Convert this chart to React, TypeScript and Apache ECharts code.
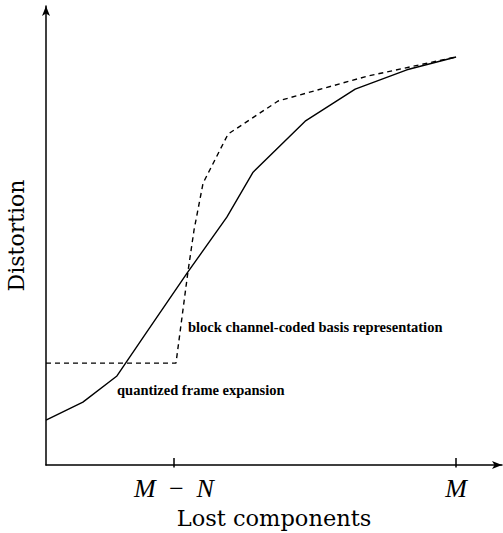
import React, { useEffect, useRef } from "react";
import * as echarts from "echarts";

// Data in arbitrary units: x = lost components (M = 100), y = distortion
const solidX = [0, 9.0, 17.3, 24.6, 34.4, 44.1, 50.5, 63.2, 75.4, 88.0, 100];
const solidY = [9.8, 13.7, 19.4, 29.0, 41.8, 54.0, 63.8, 74.9, 81.9, 86.1, 88.9];

const dashedX = [0, 31.7, 33.4, 34.6, 36.1, 38.3, 44.4, 56.6, 78.3, 100];
const dashedY = [22.2, 22.2, 33.8, 42.0, 51.2, 61.4, 72.1, 79.3, 84.7, 88.9];

const tickValues = [31.2, 100];
const tickLabels = ["M \u2009\u2212\u2009 N", "M"];

const xAxisName = "Lost components";
const yAxisName = "Distortion";
const labelBlock = "block channel-coded basis representation";
const labelQuant = "quantized frame expansion";

export default function App() {
  const ref = useRef<HTMLDivElement>(null);
  useEffect(() => {
    if (!ref.current) return;
    const chart = echarts.init(ref.current, undefined, { renderer: "svg" });
    const solid = solidX.map((x, i) => [x, solidY[i]]);
    const dashed = dashedX.map((x, i) => [x, dashedY[i]]);
    chart.setOption({
      animation: false,
      backgroundColor: "#fff",
      grid: {
        left: 46,
        top: 6,
        width: 456,
        height: 459,
        containLabel: false,
        outerBoundsMode: "none",
      },
      xAxis: [
        {
          type: "value",
          min: 0,
          max: 111.2,
          name: xAxisName,
          nameLocation: "middle",
          nameGap: 41,
          nameTextStyle: { fontFamily: "DejaVu Serif", fontSize: 22.5, color: "#000" },
          axisLine: {
            show: true,
            symbol: ["none", "arrow"],
            symbolSize: [6, 10],
            lineStyle: { color: "#000", width: 1.5 },
          },
          axisTick: {
            show: true,
            inside: true,
            length: 7,
            customValues: tickValues,
            lineStyle: { color: "#000", width: 1.5 },
          },
          axisLabel: {
            show: true,
            customValues: tickValues,
            margin: 10,
            fontFamily: "Liberation Serif",
            fontStyle: "italic",
            fontSize: 26,
            color: "#000",
            formatter: (v: number) => {
              const i = tickValues.indexOf(v);
              return i >= 0 ? tickLabels[i] : "";
            },
          },
          splitLine: { show: false },
        },
        {
          type: "value",
          position: "bottom",
          offset: 0,
          min: 0,
          max: 111.2,
          axisLine: { show: false },
          axisTick: {
            show: true,
            inside: false,
            length: 2.5,
            customValues: tickValues,
            lineStyle: { color: "#000", width: 1.5 },
          },
          axisLabel: { show: false },
          splitLine: { show: false },
        },
      ],
      yAxis: {
        type: "value",
        min: 0,
        max: 100,
        name: yAxisName,
        nameLocation: "middle",
        nameGap: 19,
        nameTextStyle: { fontFamily: "DejaVu Serif", fontSize: 22, color: "#000" },
        axisLine: {
          show: true,
          symbol: ["none", "arrow"],
          symbolSize: [6, 10],
          lineStyle: { color: "#000", width: 1.5 },
        },
        axisTick: { show: false },
        axisLabel: { show: false },
        splitLine: { show: false },
      },
      series: [
        {
          type: "line",
          xAxisIndex: 0,
          data: solid,
          showSymbol: false,
          symbol: "none",
          lineStyle: { color: "#000", width: 1.4 },
        },
        {
          type: "line",
          xAxisIndex: 0,
          data: dashed,
          showSymbol: false,
          symbol: "none",
          lineStyle: { color: "#000", width: 1.4, type: [5, 4] },
        },
      ],
      graphic: [
        {
          type: "text",
          left: 188,
          top: 319,
          style: {
            text: labelBlock,
            fontFamily: "Liberation Serif",
            fontWeight: "bold",
            fontSize: 14.5,
            fill: "#000",
          },
        },
        {
          type: "text",
          left: 117,
          top: 382,
          style: {
            text: labelQuant,
            fontFamily: "Liberation Serif",
            fontWeight: "bold",
            fontSize: 14.5,
            fill: "#000",
          },
        },
      ],
    });
    return () => chart.dispose();
  }, []);
  return (
    <div
      ref={ref}
      style={{ position: "fixed", left: 0, top: 0, width: 503, height: 533 }}
    />
  );
}
